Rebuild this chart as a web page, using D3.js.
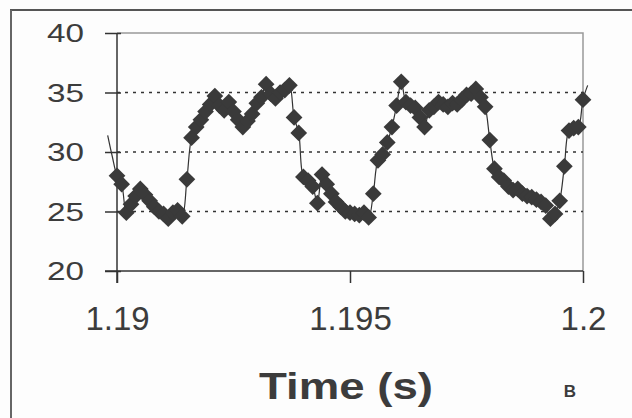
<!DOCTYPE html>
<html>
<head>
<meta charset="utf-8">
<script src="https://cdn.jsdelivr.net/npm/d3@7"></script>
<style>
  body { margin: 0; background: #fff; }
  text { font-family: "Liberation Sans", Arial, sans-serif; fill: #3c3c3c; }
</style>
</head>
<body>
<svg id="chart"></svg>
<script>
// sample times (s), 0.1 ms apart
const times = [
  1.1898, 1.1899, 1.1900, 1.1901, 1.1902, 1.1903, 1.1904, 1.1905, 1.1906, 1.1907,
  1.1908, 1.1909, 1.1910, 1.1911, 1.1912, 1.1913, 1.1914, 1.1915, 1.1916, 1.1917,
  1.1918, 1.1919, 1.1920, 1.1921, 1.1922, 1.1923, 1.1924, 1.1925, 1.1926, 1.1927,
  1.1928, 1.1929, 1.1930, 1.1931, 1.1932, 1.1933, 1.1934, 1.1935, 1.1936, 1.1937,
  1.1938, 1.1939, 1.1940, 1.1941, 1.1942, 1.1943, 1.1944, 1.1945, 1.1946, 1.1947,
  1.1948, 1.1949, 1.1950, 1.1951, 1.1952, 1.1953, 1.1954, 1.1955, 1.1956, 1.1957,
  1.1958, 1.1959, 1.1960, 1.1961, 1.1962, 1.1963, 1.1964, 1.1965, 1.1966, 1.1967,
  1.1968, 1.1969, 1.1970, 1.1971, 1.1972, 1.1973, 1.1974, 1.1975, 1.1976, 1.1977,
  1.1978, 1.1979, 1.1980, 1.1981, 1.1982, 1.1983, 1.1984, 1.1985, 1.1986, 1.1987,
  1.1988, 1.1989, 1.1990, 1.1991, 1.1992, 1.1993, 1.1994, 1.1995, 1.1996, 1.1997,
  1.1998, 1.1999, 1.2000, 1.2001
];

// measured signal at each time
const values = [
  31.4, 29.6, 28.0, 27.3, 24.9, 25.6, 26.3, 26.9, 26.4, 25.9,
  25.4, 25.0, 24.8, 24.4, 24.9, 25.1, 24.6, 27.7, 31.2, 32.1,
  32.7, 33.4, 34.0, 34.7, 33.9, 33.5, 34.2, 33.4, 32.7, 32.1,
  32.6, 33.2, 34.1, 34.6, 35.7, 34.9, 34.5, 35.0, 35.2, 35.6,
  32.9, 31.6, 27.9, 27.6, 27.1, 25.7, 28.1, 27.3, 26.5, 25.8,
  25.4, 25.0, 24.9, 24.8, 24.7, 24.9, 24.5, 26.5, 29.3, 29.8,
  30.8, 32.1, 33.9, 35.9, 34.2, 33.9, 33.7, 32.9, 32.1, 33.5,
  33.8, 34.2, 34.0, 33.8, 34.1, 34.0, 34.4, 34.8, 34.9, 35.3,
  34.6, 33.8, 31.0, 28.6, 27.9, 27.6, 27.1, 26.8, 26.9, 26.5,
  26.3, 26.2, 26.0, 25.8, 25.5, 24.4, 24.8, 25.9, 28.8, 31.8,
  32.0, 32.1, 34.4, 35.6
];

const xTicks = [1.19, 1.195, 1.2];
const xTickLabels = ["1.19", "1.195", "1.2"];
const yTicks = [20, 25, 30, 35, 40];
const gridValues = [25, 30, 35];
const xTitle = "Time (s)";
const panelLabel = "B";

const w = 632, h = 418;
const margin = { top: 33, right: 49, bottom: 147, left: 117 };

const svg = d3.select("#chart").attr("width", w).attr("height", h);

svg.append("rect").attr("width", w).attr("height", h).attr("fill", "#fdfdfd");

// outer frame (top and left edges visible)
svg.append("line")
  .attr("x1", 10).attr("x2", w).attr("y1", 10).attr("y2", 10)
  .attr("stroke", "#555").attr("stroke-width", 2);
svg.append("line")
  .attr("x1", 11).attr("x2", 11).attr("y1", 10).attr("y2", h)
  .attr("stroke", "#666").attr("stroke-width", 2);

const xScale = d3.scaleLinear()
  .domain([1.19, 1.2])
  .range([margin.left, w - margin.right]);

const yScale = d3.scaleLinear()
  .domain([20, 40])
  .range([h - margin.bottom, margin.top]);

// plot border (top and right, light gray)
svg.append("path")
  .attr("d", `M${xScale(1.19)},${yScale(40)}H${xScale(1.2)}V${yScale(20)}`)
  .attr("fill", "none").attr("stroke", "#999").attr("stroke-width", 1.5);

// dotted gridlines
svg.append("g")
  .selectAll("line")
  .data(gridValues)
  .join("line")
    .attr("x1", xScale(1.19)).attr("x2", xScale(1.2))
    .attr("y1", d => yScale(d)).attr("y2", d => yScale(d))
    .attr("stroke", "#333").attr("stroke-width", 1.5)
    .attr("stroke-dasharray", "3,5");

// y axis
const yAxis = g => g
  .attr("transform", `translate(${margin.left},0)`)
  .call(d3.axisLeft(yScale).tickValues(yTicks).tickSize(12).tickFormat(""))
  .call(g => g.select(".domain").attr("stroke", "#333").attr("stroke-width", 1.5)
    .attr("d", `M0,${yScale(40)}V${yScale(20) + 12}`))
  .call(g => g.selectAll(".tick line").attr("stroke", "#333").attr("stroke-width", 1.5)
    .attr("x2", -12).attr("x1", 4));
svg.append("g").call(yAxis);

svg.append("g")
  .selectAll("text")
  .data(yTicks)
  .join("text")
    .attr("x", 84)
    .attr("y", d => yScale(d))
    .attr("dy", "0.36em")
    .attr("text-anchor", "end")
    .attr("font-size", 26)
    .attr("textLength", 37)
    .attr("lengthAdjust", "spacingAndGlyphs")
    .text(d => d);

// x axis
const xAxis = g => g
  .attr("transform", `translate(0,${h - margin.bottom})`)
  .call(d3.axisBottom(xScale).tickValues(xTicks).tickSize(12).tickFormat((d, i) => xTickLabels[i]))
  .call(g => g.select(".domain").attr("stroke", "#333").attr("stroke-width", 1.5)
    .attr("d", `M${xScale(1.19) - 12},0H${xScale(1.2)}`))
  .call(g => g.selectAll(".tick line").attr("stroke", "#333").attr("stroke-width", 1.5))
  .call(g => g.selectAll(".tick text")
    .attr("font-family", "'Liberation Sans', Arial, sans-serif")
    .attr("font-size", 33).attr("fill", "#3c3c3c").attr("dy", "1.32em"));
svg.append("g").call(xAxis);

// smoothed line (runs past the axis ends like the original)
const line = d3.line()
  .x((d, i) => xScale(times[i]))
  .y(d => yScale(d))
  .curve(d3.curveCatmullRom);

svg.append("path")
  .datum(values)
  .attr("d", line)
  .attr("fill", "none")
  .attr("stroke", "#333")
  .attr("stroke-width", 1.2);

// diamond markers, only inside the time range
const diamond = d3.symbol().type(d3.symbolSquare).size(140);
const pts = times
  .map((t, i) => ({ t: t, v: values[i] }))
  .filter(d => d.t >= 1.19 - 1e-9 && d.t <= 1.2 + 1e-9);

svg.append("g")
  .selectAll("path")
  .data(pts)
  .join("path")
    .attr("d", diamond)
    .attr("transform", d => `translate(${xScale(d.t)},${yScale(d.v)}) rotate(45)`)
    .attr("fill", "#3a3a3a");

// axis title and panel label
svg.append("text")
  .attr("x", 346).attr("y", 399)
  .attr("text-anchor", "middle")
  .attr("font-size", 36).attr("font-weight", "bold")
  .attr("textLength", 174).attr("lengthAdjust", "spacingAndGlyphs")
  .text(xTitle);

svg.append("text")
  .attr("x", 570).attr("y", 397)
  .attr("text-anchor", "middle")
  .attr("font-size", 17).attr("font-weight", "bold")
  .text(panelLabel);
</script>
</body>
</html>
